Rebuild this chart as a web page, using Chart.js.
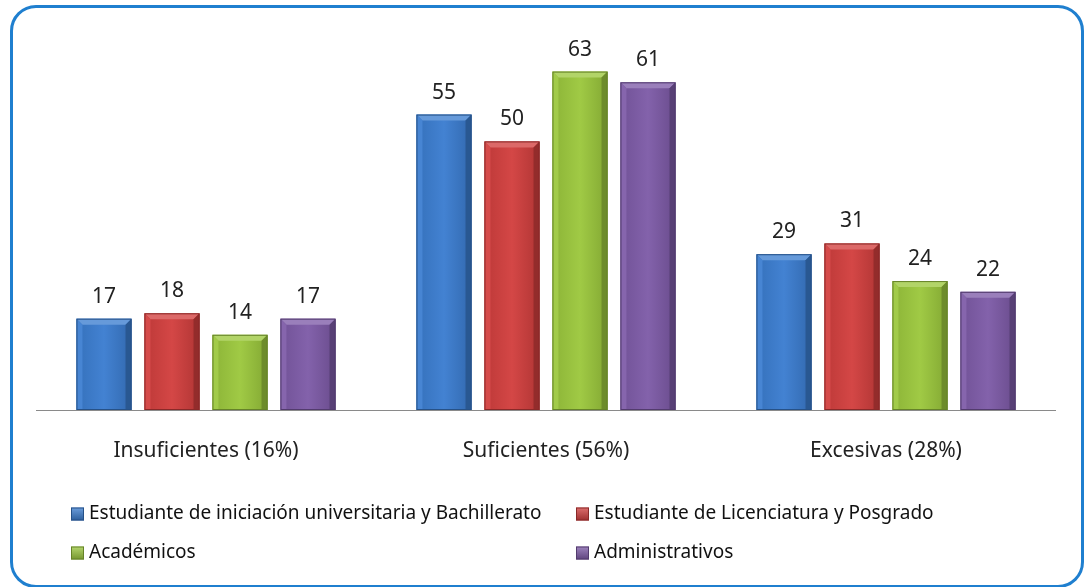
<!DOCTYPE html>
<html>
<head>
<meta charset="utf-8">
<script src="https://cdn.jsdelivr.net/npm/chart.js@4/dist/chart.umd.min.js"></script>
<style>
html,body{margin:0;padding:0;background:#fff;}
#wrap{position:relative;width:1090px;height:587px;overflow:hidden;}
#frame{position:absolute;left:10px;top:5px;width:1068px;height:577px;border:3px solid #1f7fcf;border-radius:26px;}
canvas{position:absolute;left:0;top:0;}
</style>
</head>
<body>
<div id="wrap">
<div id="frame"></div>
<canvas id="c" width="1090" height="587"></canvas>
</div>
<script>
const categories = ["Insuficientes (16%)", "Suficientes (56%)", "Excesivas (28%)"];
const seriesNames = [
  "Estudiante de iniciación universitaria y Bachillerato",
  "Estudiante de Licenciatura y Posgrado",
  "Académicos",
  "Administrativos"
];
const iniciacion = [17, 55, 29];
const licenciatura = [18, 50, 31];
const academicos = [14, 63, 24];
const administrativos = [17, 61, 22];
const colors = ["#3b7dd0", "#d23f3e", "#9cc83d", "#7e5ba8"];
const FONT = "'Noto Sans', sans-serif";

const seriesValues = [iniciacion, licenciatura, academicos, administrativos];

function shade(hex, amt){
  const n = parseInt(hex.slice(1),16);
  let r=(n>>16)&255,g=(n>>8)&255,b=n&255;
  const f = amt<0 ? 0 : 255, p = Math.abs(amt);
  r=Math.round((f-r)*p+r);g=Math.round((f-g)*p+g);b=Math.round((f-b)*p+b);
  return `rgb(${r},${g},${b})`;
}

const bevelPlugin = {
  id:'bevel',
  afterDatasetsDraw(chart){
    const ctx = chart.ctx;
    chart.data.datasets.forEach((ds,i)=>{
      const meta = chart.getDatasetMeta(i);
      const base = colors[i];
      meta.data.forEach((bar,j)=>{
        const w = bar.width, l = bar.x - w/2, r = bar.x + w/2, t = bar.y, b = bar.base;
        const e = 6;
        ctx.save();
        const g = ctx.createLinearGradient(l,0,r,0);
        g.addColorStop(0, shade(base,-0.10));
        g.addColorStop(0.5, shade(base,0.04));
        g.addColorStop(1, shade(base,-0.16));
        ctx.fillStyle = g;
        ctx.fillRect(l,t,w,b-t);
        ctx.beginPath();
        ctx.moveTo(l,t);ctx.lineTo(r,t);ctx.lineTo(r-e,t+e);ctx.lineTo(l+e,t+e);ctx.closePath();
        ctx.fillStyle = shade(base,0.22);ctx.fill();
        ctx.beginPath();
        ctx.moveTo(l,t);ctx.lineTo(l+e,t+e);ctx.lineTo(l+e,b);ctx.lineTo(l,b);ctx.closePath();
        ctx.fillStyle = shade(base,0.06);ctx.fill();
        ctx.beginPath();
        ctx.moveTo(r,t);ctx.lineTo(r-e,t+e);ctx.lineTo(r-e,b);ctx.lineTo(r,b);ctx.closePath();
        ctx.fillStyle = shade(base,-0.3);ctx.fill();
        ctx.strokeStyle = shade(base,-0.35);ctx.lineWidth=1;
        ctx.strokeRect(l+0.5,t+0.5,w-1,b-t-1);
        ctx.restore();
        ctx.save();
        ctx.fillStyle = "#222";
        ctx.font = "21px " + FONT;
        ctx.textAlign = "center";
        ctx.textBaseline = "alphabetic";
        ctx.fillText(String(ds.data[j]), bar.x, t - 16);
        ctx.restore();
      });
    });
    const a = chart.chartArea;
    ctx.save();
    ctx.strokeStyle = "#8a8a8a";ctx.lineWidth=1;
    ctx.beginPath();ctx.moveTo(a.left,a.bottom+0.5);ctx.lineTo(a.right,a.bottom+0.5);ctx.stroke();
    ctx.restore();
  }
};

const legendPlugin = {
  id:'legend2col',
  afterDraw(chart){
    const ctx = chart.ctx;
    const cols = [71, 576], rows = [514, 553];
    chart.data.datasets.forEach((ds,i)=>{
      const x = cols[i%2], y = rows[Math.floor(i/2)];
      const s = 13;
      const g = ctx.createLinearGradient(0,y-s/2,0,y+s/2);
      g.addColorStop(0, shade(colors[i],0.25));
      g.addColorStop(1, shade(colors[i],-0.25));
      ctx.save();
      ctx.fillStyle = g;
      ctx.fillRect(x,y-s/2,s,s);
      ctx.strokeStyle = shade(colors[i],-0.35);
      ctx.strokeRect(x+0.5,y-s/2+0.5,s-1,s-1);
      ctx.fillStyle = "#111";
      ctx.font = "19px " + FONT;
      ctx.textBaseline = "middle";
      ctx.fillText(ds.label, x+s+5, y);
      ctx.restore();
    });
  }
};

new Chart(document.getElementById('c'), {
  type:'bar',
  data:{
    labels: categories,
    datasets: seriesValues.map((v,i)=>({
      label: seriesNames[i],
      data: v,
      backgroundColor: 'rgba(0,0,0,0)',
      borderWidth: 0,
      categoryPercentage: 0.8,
      barPercentage: 0.81
    }))
  },
  options:{
    responsive:false,
    animation:false,
    layout:{padding:{top:34,left:36,right:34,bottom:0}},
    plugins:{legend:{display:false},tooltip:{enabled:false}},
    scales:{
      y:{display:false,min:0,max:70},
      x:{
        grid:{display:false,drawTicks:false},
        border:{display:false},
        ticks:{color:"#222",font:{family:"Noto Sans",size:21},padding:28},
        afterFit(scale){scale.height = 177;}
      }
    }
  },
  plugins:[bevelPlugin, legendPlugin]
});
</script>
</body>
</html>
